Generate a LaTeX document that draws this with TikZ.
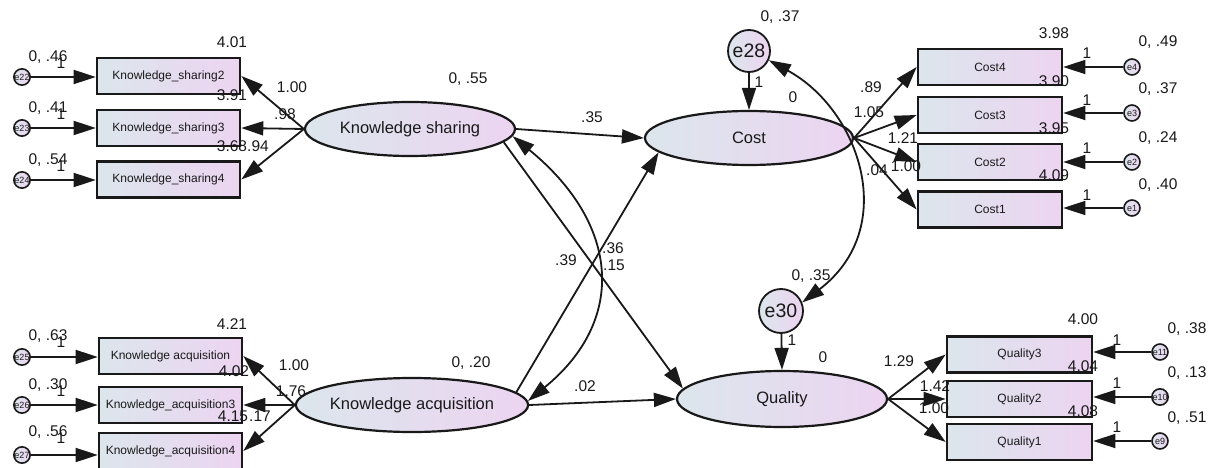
\documentclass[tikz,border=0pt]{standalone}
\usepackage{fontspec}
\setmainfont{Liberation Sans}
\usetikzlibrary{arrows.meta,shapes.geometric}

\definecolor{shadeL}{RGB}{220,230,236}
\definecolor{shadeR}{RGB}{236,212,241}
\definecolor{ink}{RGB}{25,25,25}

\begin{document}
\begin{tikzpicture}[x=1pt,y=-1pt,
  obs/.style={draw=ink, line width=2.6pt, left color=shadeL, right color=shadeR,
    minimum width=143pt, minimum height=36pt, inner sep=0pt,
    font=\fontsize{12}{14}\selectfont, text=ink},
  lat/.style={ellipse, draw=ink, line width=2.2pt, left color=shadeL, right color=shadeR,
    minimum width=210pt, minimum height=54pt, inner sep=0pt,
    font=\fontsize{16.5}{19}\selectfont, text=ink},
  err/.style={circle, draw=ink, line width=1.6pt, left color=shadeL, right color=shadeR,
    minimum size=16pt, inner sep=0pt, font=\fontsize{9}{10}\selectfont, text=ink},
  res/.style={circle, draw=ink, line width=1.8pt, left color=shadeL, right color=shadeR,
    minimum size=42pt, inner sep=0pt, font=\fontsize{19.5}{22}\selectfont, text=ink},
  lbl/.style={font=\fontsize{15.5}{18}\selectfont, text=ink, inner sep=0pt},
  arr/.style={line width=1.8pt, draw=ink, -{Triangle[length=22pt,width=14pt]}},
  cov/.style={line width=1.8pt, draw=ink,
    {Triangle[length=22pt,width=14pt]}-{Triangle[length=22pt,width=14pt]}},
]
\fill[white] (0,0) rectangle (1211,468);
\useasboundingbox (0,0) rectangle (1211,468);

% ---------- latent variables ----------
\node[lat] (KS) at (410,129) {Knowledge sharing};
\node[lat] (KA) at (412,405) {Knowledge acquisition};
\node[lat, minimum width=208pt] (Cost) at (749,138) {Cost};
\node[lat, minimum height=56pt] (Q) at (782,399) {Quality};

% ---------- structural residuals ----------
\node[res] (e28) at (749,51) {e28};
\node[res, minimum size=44pt] (e30) at (781,311) {e30};

% ---------- indicators ----------
\node[obs] (KS2) at (168.5,76) {Knowledge\_sharing2};
\node[obs] (KS3) at (168.5,128) {Knowledge\_sharing3};
\node[obs] (KS4) at (168.5,179.5) {Knowledge\_sharing4};
\node[obs] (KA1) at (170.5,356) {Knowledge acquisition};
\node[obs] (KA3) at (170.5,405) {Knowledge\_acquisition3};
\node[obs] (KA4) at (170.5,451) {Knowledge\_acquisition4};
\node[obs, minimum width=144pt] (C4) at (990,67) {Cost4};
\node[obs, minimum width=144pt] (C3) at (990,115) {Cost3};
\node[obs, minimum width=144pt] (C2) at (990,162) {Cost2};
\node[obs, minimum width=144pt] (C1) at (990,209.5) {Cost1};
\node[obs, minimum width=145pt] (Q3) at (1019.5,354.5) {Quality3};
\node[obs, minimum width=145pt] (Q2) at (1019.5,399) {Quality2};
\node[obs, minimum width=145pt] (Q1) at (1019.5,442) {Quality1};

% ---------- measurement errors ----------
\node[err] (e22) at (22,77) {e22};
\node[err] (e23) at (22,128) {e23};
\node[err] (e24) at (22,180) {e24};
\node[err] (e25) at (22,357) {e25};
\node[err] (e26) at (22,405) {e26};
\node[err] (e27) at (22,455) {e27};
\node[err] (e4) at (1132,67) {e4};
\node[err] (e3) at (1132,113) {e3};
\node[err] (e2) at (1132,162) {e2};
\node[err] (e1) at (1132,208) {e1};
\node[err] (e11) at (1160,352) {e11};
\node[err] (e10) at (1160,397) {e10};
\node[err] (e9) at (1160,441) {e9};

% ---------- error paths ----------
\foreach \e/\b in {e22/KS2, e23/KS3, e24/KS4, e25/KA1, e26/KA3, e27/KA4}
  \draw[arr] (\e) -- (\e -| \b.west);
\foreach \e/\b in {e4/C4, e3/C3, e2/C2, e1/C1, e11/Q3, e10/Q2, e9/Q1}
  \draw[arr] (\e) -- (\e -| \b.east);

% ---------- loadings ----------
\foreach \b in {KS2, KS3, KS4} \draw[arr] (KS.west) -- (\b.east);
\foreach \b in {KA1, KA3, KA4} \draw[arr] (KA.west) -- (\b.east);
\foreach \b in {C4, C3, C2, C1} \draw[arr] (Cost.east) -- (\b.west);
\foreach \b in {Q3, Q2, Q1} \draw[arr] (Q.east) -- (\b.west);

% ---------- structural paths ----------
\draw[arr] (KS.east) -- (Cost.west);
\draw[arr] (KS.-8) -- (Q.174);
\draw[arr] (KA.7) -- (Cost.189);
\draw[arr] (KA.east) -- (Q.west);
\draw[arr] (e28) -- (Cost.north);
\draw[arr] (e30) -- (Q.north);

% ---------- covariances ----------
\draw[cov] (KS.-4) .. controls (621,225) and (626,321) .. (KA.2);
\draw[cov] (e28.-25) .. controls (860,110) and (900,228) .. (e30.22);

% ---------- estimates: knowledge sharing block ----------
\node[lbl] (t1) at (48,57) {0, .46};
\node[lbl] (t2) at (61,63) {1};
\node[lbl] (t3) at (48,108) {0, .41};
\node[lbl] (t4) at (61,114) {1};
\node[lbl] (t5) at (48,160) {0, .54};
\node[lbl] (t6) at (61,166) {1};
\node[lbl] (t7) at (232,42) {4.01};
\node[lbl] (t8) at (232,95) {3.91};
\node[lbl] (t9) at (232,146) {3.68};
\node[lbl] (t10) at (258,146) {.94};
\node[lbl] (t11) at (292,87) {1.00};
\node[lbl] (t12) at (285,114) {.98};
\node[lbl] (t13) at (468,79) {0, .55};

% ---------- estimates: knowledge acquisition block ----------
\node[lbl] (t14) at (48,336) {0, .63};
\node[lbl] (t15) at (61,342) {1};
\node[lbl] (t16) at (48,385) {0, .30};
\node[lbl] (t17) at (61,391) {1};
\node[lbl] (t18) at (48,432) {0, .56};
\node[lbl] (t19) at (61,438) {1};
\node[lbl] (t20) at (232,324) {4.21};
\node[lbl] (t21) at (234,371) {4.02};
\node[lbl] (t22) at (233,416) {4.15};
\node[lbl] (t23) at (260,416) {.17};
\node[lbl] (t24) at (294,365) {1.00};
\node[lbl] (t25) at (291,391) {1.76};
\node[lbl] (t26) at (471,363) {0, .20};

% ---------- estimates: structural part ----------
\node[lbl] (t27) at (592,117) {.35};
\node[lbl] (t28) at (585,386) {.02};
\node[lbl] (t29) at (566,260) {.39};
\node[lbl] (t30) at (613,248) {.36};
\node[lbl] (t31) at (614,265) {.15};

% ---------- estimates: cost block ----------
\node[lbl] (t32) at (780,17) {0, .37};
\node[lbl] (t33) at (759,82) {1};
\node[lbl] (t34) at (793,97) {0};
\node[lbl] (t35) at (871,87) {.89};
\node[lbl] (t36) at (869,112) {1.05};
\node[lbl] (t37) at (903,138) {1.21};
\node[lbl] (t38) at (906,166) {1.00};
\node[lbl] (t39) at (877,170) {.04};
\node[lbl] (t40) at (1054,33) {3.98};
\node[lbl] (t41) at (1054,81) {3.90};
\node[lbl] (t42) at (1054,128) {3.95};
\node[lbl] (t43) at (1054,175) {4.09};
\node[lbl] (t44) at (1158,42) {0, .49};
\node[lbl] (t45) at (1158,89) {0, .37};
\node[lbl] (t46) at (1158,138) {0, .24};
\node[lbl] (t47) at (1158,185) {0, .40};
\node[lbl] (t48) at (1087,53) {1};
\node[lbl] (t49) at (1087,100) {1};
\node[lbl] (t50) at (1087,148) {1};
\node[lbl] (t51) at (1087,195) {1};

% ---------- estimates: quality block ----------
\node[lbl] (t52) at (811,276) {0, .35};
\node[lbl] (t53) at (792,340) {1};
\node[lbl] (t54) at (823,357) {0};
\node[lbl] (t55) at (899,361) {1.29};
\node[lbl] (t56) at (935,386) {1.42};
\node[lbl] (t57) at (934,408) {1.00};
\node[lbl] (t58) at (1083,319) {4.00};
\node[lbl] (t59) at (1083,366) {4.04};
\node[lbl] (t60) at (1083,411) {4.08};
\node[lbl] (t61) at (1187,329) {0, .38};
\node[lbl] (t62) at (1187,373) {0, .13};
\node[lbl] (t63) at (1187,418) {0, .51};
\node[lbl] (t64) at (1117,340) {1};
\node[lbl] (t65) at (1117,383) {1};
\node[lbl] (t66) at (1117,427) {1};
\end{tikzpicture}
\end{document}
